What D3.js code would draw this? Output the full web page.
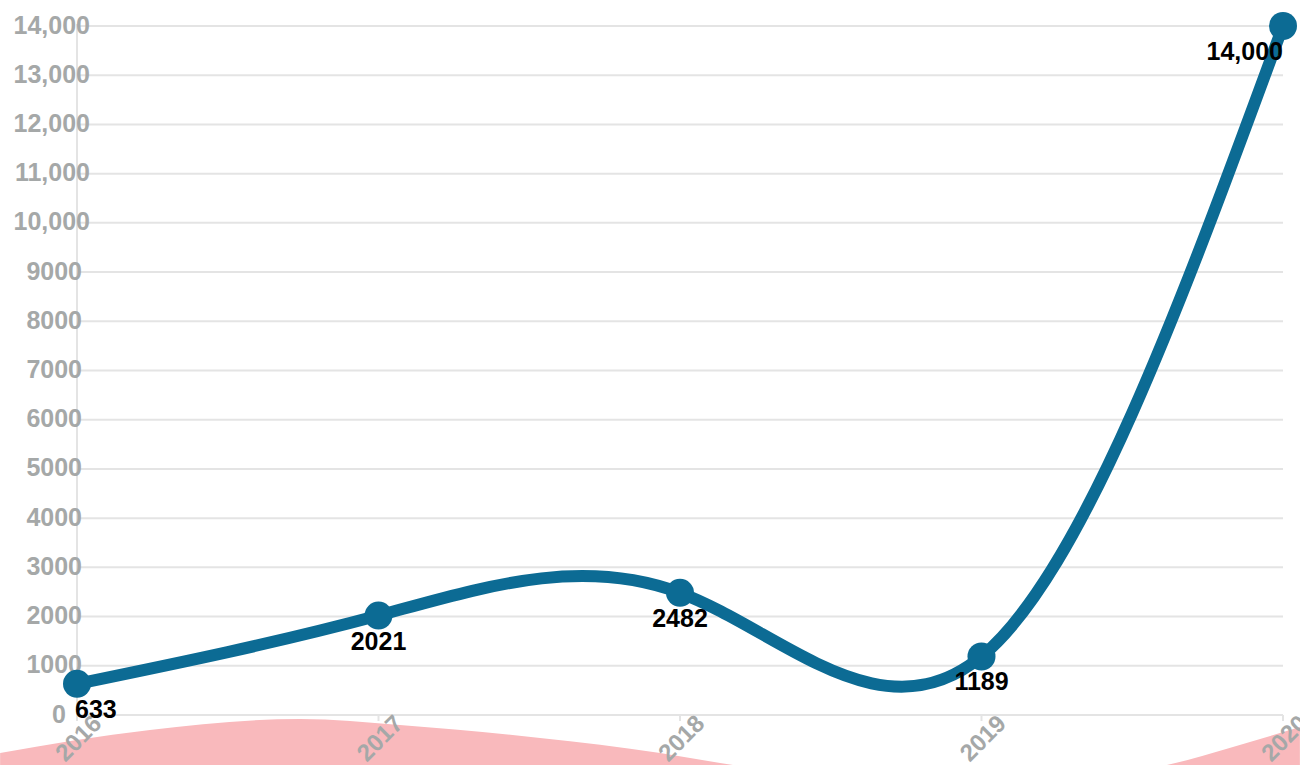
<!DOCTYPE html>
<html>
<head>
<meta charset="utf-8">
<script src="https://cdn.jsdelivr.net/npm/d3@7/dist/d3.min.js"></script>
<style>
  html, body { margin: 0; padding: 0; background: #fff; }
  svg { display: block; font-family: "Liberation Sans", Arial, sans-serif; }
</style>
</head>
<body>
<svg id="chart" width="1300" height="765"></svg>
<script>
// ---- data ----
const years = [2016, 2017, 2018, 2019, 2020];
const values = [633, 2021, 2482, 1189, 14000];
const yTicks = [0, 1000, 2000, 3000, 4000, 5000, 6000, 7000, 8000, 9000, 10000, 11000, 12000, 13000, 14000];
// decorative background wave (year position, value below zero)
const waveYears = [2015.745, 2016.242, 2016.74, 2017.071, 2017.536, 2017.934, 2018.133, 2018.9, 2019.615, 2019.834, 2020.056];
const waveValues = [-772, -305, -81, -203, -467, -772, -975, -1500, -1016, -650, -244];

// ---- layout ----
const W = 1300, H = 765;
const m = { left: 77, right: 17, top: 26, bottom: 50 };
const svg = d3.select("#chart");

const x = d3.scaleLinear().domain([2016, 2020]).range([m.left, W - m.right]);
const y = d3.scaleLinear().domain([0, 14000]).range([H - m.bottom, m.top]);

const gridColor = "#e4e4e4";
const labelGray = "#a5a8a8";

// gridlines
svg.append("g").selectAll("line").data(yTicks).join("line")
  .attr("x1", x(2016)).attr("x2", x(2020))
  .attr("y1", d => y(d)).attr("y2", d => y(d))
  .attr("stroke", gridColor).attr("stroke-width", 2);

// y axis line
svg.append("line")
  .attr("x1", x(2016)).attr("x2", x(2016))
  .attr("y1", y(14000) - 2).attr("y2", y(0) + 6)
  .attr("stroke", gridColor).attr("stroke-width", 2);

// x ticks
svg.append("g").selectAll("line").data(years).join("line")
  .attr("x1", d => x(d)).attr("x2", d => x(d))
  .attr("y1", y(0)).attr("y2", y(0) + 6)
  .attr("stroke", gridColor).attr("stroke-width", 2);

// y tick labels
const fmt = d => d >= 10000 ? d3.format(",")(d) : String(d);
const dxByLen = { 1: -11, 4: 5, 6: 13 };
svg.append("g").selectAll("text").data(yTicks).join("text")
  .attr("x", d => x(2016) + (dxByLen[fmt(d).length] || 0))
  .attr("y", d => y(d))
  .attr("dy", "0.3em")
  .attr("text-anchor", "end")
  .attr("font-size", 25).attr("font-weight", "bold")
  .attr("fill", labelGray)
  .text(fmt);

// pink wave
const waveData = waveYears.map((t, i) => [t, waveValues[i]]);
svg.append("path")
  .attr("fill", "#f9b9bc")
  .attr("d", d3.area().curve(d3.curveMonotoneX)
    .x(d => x(d[0])).y0(y(-3000)).y1(d => y(d[1]))(waveData));

// x labels
svg.append("g").selectAll("text").data(years).join("text")
  .attr("transform", d => `translate(${x(d) + 20},${y(0) + 4}) rotate(-45)`)
  .attr("text-anchor", "end")
  .attr("dy", "0.35em")
  .attr("font-size", 24).attr("font-weight", "bold")
  .attr("fill", labelGray)
  .text(d => d);

// main line
const pts = years.map((t, i) => [t, values[i]]);
svg.append("path")
  .attr("fill", "none")
  .attr("stroke", "#0c6b94")
  .attr("stroke-width", 12)
  .attr("d", d3.line().curve(d3.curveNatural).x(d => x(d[0])).y(d => y(d[1]))(pts));

svg.append("g").selectAll("circle").data(pts).join("circle")
  .attr("cx", d => x(d[0])).attr("cy", d => y(d[1]))
  .attr("r", 14).attr("fill", "#0c6b94");

// data labels
svg.append("g").selectAll("text").data(pts).join("text")
  .attr("x", (d, i) => i === 0 ? x(d[0]) - 2 : x(d[0]))
  .attr("y", d => y(d[1]) + 34)
  .attr("text-anchor", (d, i) => i === 0 ? "start" : (i === pts.length - 1 ? "end" : "middle"))
  .attr("font-size", 25).attr("font-weight", "bold")
  .attr("fill", "#000")
  .text(d => d[1] >= 10000 ? d3.format(",")(d[1]) : String(d[1]));
</script>
</body>
</html>
